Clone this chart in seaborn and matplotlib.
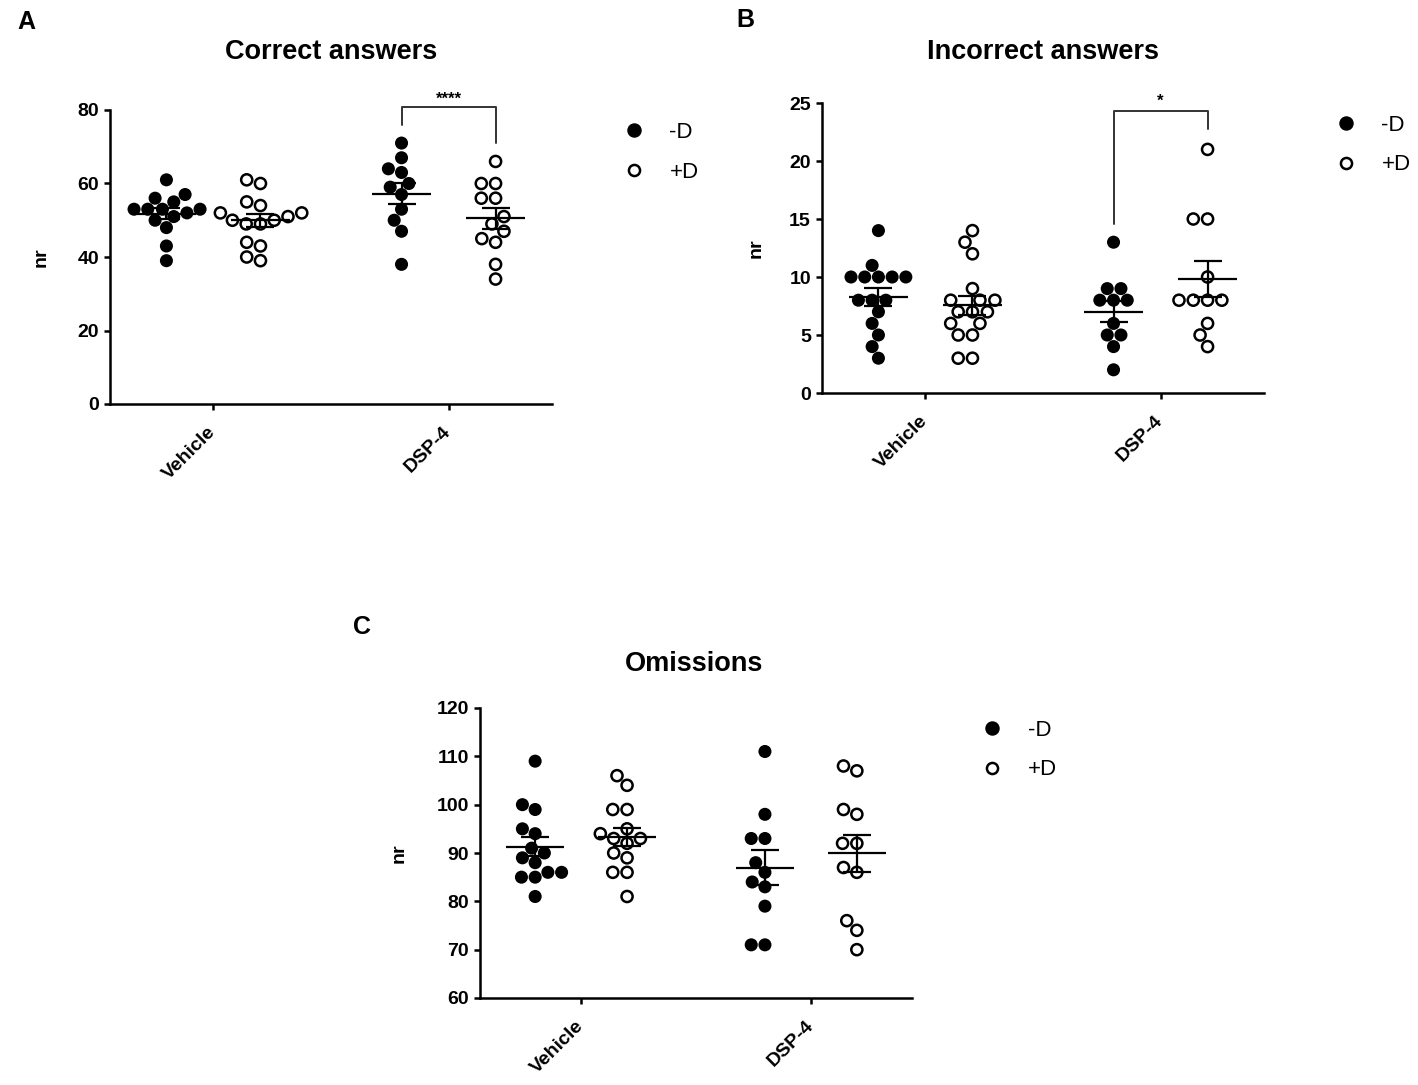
import numpy as np
import pandas as pd
import matplotlib
matplotlib.use("Agg")
import matplotlib.pyplot as plt
import seaborn as sns
from matplotlib.lines import Line2D

# values (nr per animal)
groups = ["Vehicle", "DSP-4"]
hue_levels = ["-D", "+D"]

corr_veh_minus = [61, 57, 56, 55, 53, 53, 53, 53, 52, 51, 50, 48, 43, 39]
corr_veh_plus = [61, 60, 55, 54, 52, 52, 51, 50, 50, 49, 49, 44, 43, 40, 39]
corr_dsp_minus = [71, 67, 64, 63, 60, 59, 57, 53, 50, 47, 38]
corr_dsp_plus = [66, 60, 60, 56, 56, 51, 49, 47, 45, 44, 38, 34]

inc_veh_minus = [14, 11, 10, 10, 10, 10, 10, 8, 8, 8, 7, 6, 5, 4, 3]
inc_veh_plus = [14, 13, 12, 9, 8, 8, 8, 7, 7, 7, 6, 6, 5, 5, 3, 3]
inc_dsp_minus = [13, 9, 9, 8, 8, 8, 6, 5, 5, 4, 2]
inc_dsp_plus = [21, 15, 15, 10, 8, 8, 8, 8, 6, 5, 4]

om_veh_minus = [109, 100, 99, 95, 94, 91, 90, 89, 88, 86, 86, 85, 85, 81]
om_veh_plus = [106, 104, 99, 99, 95, 94, 93, 93, 92, 90, 89, 86, 86, 81]
om_dsp_minus = [111, 98, 93, 93, 88, 86, 84, 83, 79, 71, 71]
om_dsp_plus = [108, 107, 99, 98, 92, 92, 87, 86, 76, 74, 70]

titles = ["Correct answers", "Incorrect answers", "Omissions"]
letters = ["A", "B", "C"]
ylims = [(0, 80), (0, 25), (60, 120)]
yticks = [np.arange(0, 81, 20), np.arange(0, 26, 5), np.arange(60, 121, 10)]


def make_df(vm, vp, dm, dp):
    rows = []
    for g, d, vals in [("Vehicle", "-D", vm), ("Vehicle", "+D", vp),
                       ("DSP-4", "-D", dm), ("DSP-4", "+D", dp)]:
        for v in vals:
            rows.append({"group": g, "D": d, "nr": v})
    return pd.DataFrame(rows)


dfs = [
    make_df(corr_veh_minus, corr_veh_plus, corr_dsp_minus, corr_dsp_plus),
    make_df(inc_veh_minus, inc_veh_plus, inc_dsp_minus, inc_dsp_plus),
    make_df(om_veh_minus, om_veh_plus, om_dsp_minus, om_dsp_plus),
]

sns.set_style("ticks")
plt.rcParams["font.family"] = ["Liberation Sans", "DejaVu Sans"]
for key in ["text.color", "axes.labelcolor", "xtick.color", "ytick.color",
            "axes.edgecolor"]:
    plt.rcParams[key] = "black"

W, H = 1418, 1085
fig = plt.figure(figsize=(W / 100, H / 100), dpi=100)

# axes boxes in pixels: left, top, right, bottom
boxes = [(110, 110, 552, 404), (822, 103, 1264, 393), (480, 708, 912, 998)]
axes = []
for l, t, r, b in boxes:
    axes.append(fig.add_axes([l / W, 1 - b / H, (r - l) / W, (b - t) / H]))

offsets = {"-D": -0.2, "+D": 0.2}
fill_size, open_size = 9.4, 8.0
tick_fs = 14

for i, (ax, df) in enumerate(zip(axes, dfs)):
    sns.swarmplot(data=df[df.D == "-D"], x="group", y="nr", hue="D",
                  order=groups, hue_order=hue_levels, dodge=True,
                  palette={"-D": "black", "+D": "black"}, size=fill_size,
                  linewidth=0, legend=False, ax=ax, warn_thresh=1)
    sns.swarmplot(data=df[df.D == "+D"], x="group", y="nr", hue="D",
                  order=groups, hue_order=hue_levels, dodge=True,
                  palette={"-D": "white", "+D": "white"}, size=open_size,
                  edgecolor="black", linewidth=1.8, legend=False, ax=ax,
                  warn_thresh=1)

    # mean +- SEM
    for gi, g in enumerate(groups):
        for d in hue_levels:
            vals = df[(df.group == g) & (df.D == d)]["nr"].to_numpy()
            m = vals.mean()
            sem = vals.std(ddof=1) / np.sqrt(len(vals))
            x = gi + offsets[d]
            ax.hlines(m, x - 0.125, x + 0.125, color="black", lw=1.6, zorder=5)
            ax.errorbar(x, m, yerr=sem, fmt="none", ecolor="black",
                        elinewidth=1.6, capsize=10, capthick=1.6, zorder=5)

    ax.set_xlim(-0.44, 1.44)
    ax.set_ylim(*ylims[i])
    ax.set_yticks(yticks[i])
    ax.set_xlabel("")
    ax.set_ylabel("nr", fontsize=14, fontweight="bold")
    sns.despine(ax=ax)
    for s in ["left", "bottom"]:
        ax.spines[s].set_linewidth(1.8)
    ax.tick_params(axis="both", width=1.8, length=4.5, labelsize=tick_fs)
    ax.tick_params(axis="x", pad=14)
    for lab in ax.get_yticklabels():
        lab.set_fontweight("bold")
    ax.set_xticks(range(len(groups)))
    ax.set_xticklabels(groups, rotation=45, ha="right", va="center",
                       rotation_mode="anchor", fontweight="bold",
                       fontsize=tick_fs)

    handles = [
        Line2D([], [], marker="o", ls="none", color="black",
               markersize=fill_size),
        Line2D([], [], marker="o", ls="none", markerfacecolor="white",
               markeredgecolor="black", markeredgewidth=1.8,
               markersize=open_size),
    ]
    ax.legend(handles, hue_levels, loc="upper left",
              bbox_to_anchor=(1.15, 0.96), frameon=False, fontsize=16,
              handlelength=1.4, handletextpad=0.9, labelspacing=0.85,
              borderpad=0, borderaxespad=0)

axes[0].yaxis.set_label_coords(-0.136, 0.5)
axes[1].yaxis.set_label_coords(-0.129, 0.5)
axes[2].yaxis.set_label_coords(-0.167, 0.5)

# significance brackets
bcol = "#333333"
a = axes[0]
a.plot([1 - 0.2, 1 - 0.2, 1 + 0.2, 1 + 0.2], [75.9, 80.9, 80.9, 71.0],
       color=bcol, lw=1.4, clip_on=False)
a.text(1.0, 81.8, "****", ha="center", va="baseline", fontsize=12,
       fontweight="bold")
b = axes[1]
b.plot([1 - 0.2, 1 - 0.2, 1 + 0.2, 1 + 0.2], [14.6, 24.3, 24.3, 22.8],
       color=bcol, lw=1.4, clip_on=False)
b.text(1.0, 24.75, "*", ha="center", va="baseline", fontsize=12,
       fontweight="bold")

# titles and panel letters
fig.text(331 / W, 1 - 52 / H, titles[0], ha="center", va="center",
         fontsize=19.5, fontweight="bold")
fig.text(1043 / W, 1 - 52 / H, titles[1], ha="center", va="center",
         fontsize=19.5, fontweight="bold")
fig.text(694 / W, 1 - 664 / H, titles[2], ha="center", va="center",
         fontsize=19.5, fontweight="bold")
fig.text(26 / W, 1 - 22 / H, letters[0], ha="center", va="center",
         fontsize=18, fontweight="bold")
fig.text(745 / W, 1 - 20 / H, letters[1], ha="center", va="center",
         fontsize=18, fontweight="bold")
fig.text(362 / W, 1 - 627 / H, letters[2], ha="center", va="center",
         fontsize=18, fontweight="bold")

fig.savefig("out.png", dpi=100, facecolor="white")
